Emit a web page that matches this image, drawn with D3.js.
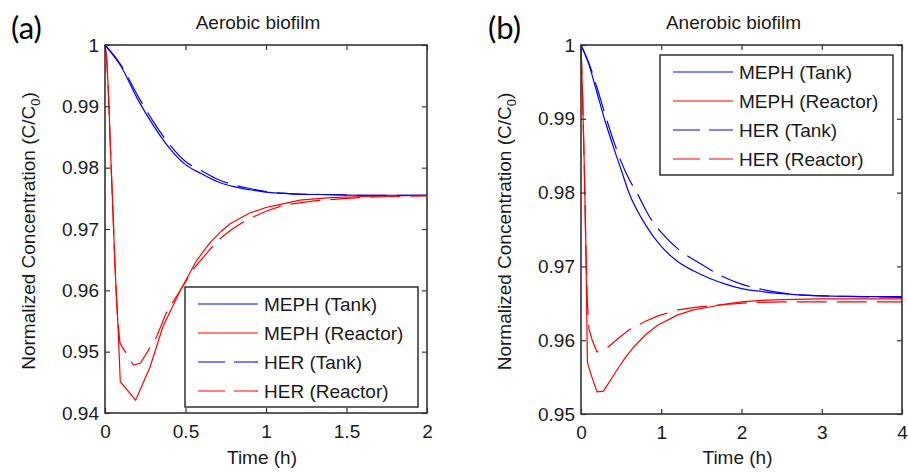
<!DOCTYPE html>
<html>
<head>
<meta charset="utf-8">
<script src="https://cdn.jsdelivr.net/npm/d3@7"></script>
<style>
  body { margin: 0; background: #fff; }
  svg { display: block; }
</style>
</head>
<body>
<script>
// series names, in legend order
const LEGEND = ["MEPH (Tank)", "MEPH (Reactor)", "HER (Tank)", "HER (Reactor)"]
const COLORS = ["#0000ff", "#ff0000", "#0000ff", "#ff0000"]

// (a) aerobic biofilm, time in h, C/C0
const aeroMephTankT = [0, 0.1, 0.2, 0.3, 0.4, 0.5, 0.6, 0.7, 0.8, 0.9, 1.0, 1.2, 1.4, 1.6, 1.8, 2.0]
const aeroMephTankC = [1, 0.9965, 0.9913, 0.9869, 0.9832, 0.9805, 0.9790, 0.9777, 0.9769, 0.9764, 0.9760, 0.9757, 0.9756, 0.9755, 0.9755, 0.9755]
const aeroHerTankT = [0, 0.1, 0.2, 0.3, 0.4, 0.5, 0.6, 0.7, 0.8, 0.9, 1.0, 1.2, 1.4, 1.6, 1.8, 2.0]
const aeroHerTankC = [1, 0.9967, 0.9919, 0.9875, 0.9838, 0.9810, 0.9795, 0.9781, 0.9772, 0.9766, 0.9761, 0.9757, 0.9756, 0.9755, 0.9755, 0.9755]
const aeroMephReactorT = [0, 0.01, 0.02, 0.03, 0.04, 0.05, 0.06, 0.07, 0.08, 0.095, 0.19, 0.28, 0.36, 0.47, 0.57, 0.65, 0.72, 0.78, 0.85, 0.9, 1.0, 1.07, 1.21, 1.4, 1.6, 1.8, 2.0]
const aeroMephReactorC = [1, 0.998, 0.993, 0.986, 0.979, 0.9725, 0.9652, 0.9595, 0.9545, 0.9451, 0.9421, 0.9475, 0.9541, 0.9601, 0.9649, 0.9677, 0.9696, 0.9709, 0.9719, 0.9726, 0.9735, 0.9739, 0.9747, 0.9751, 0.9753, 0.9754, 0.9755]
const aeroHerReactorT = [0, 0.01, 0.02, 0.03, 0.04, 0.05, 0.06, 0.07, 0.08, 0.093, 0.176, 0.22, 0.32, 0.38, 0.47, 0.55, 0.63, 0.7, 0.78, 0.88, 1.0, 1.11, 1.3, 1.5, 1.75, 2.0]
const aeroHerReactorC = [1, 0.998, 0.993, 0.986, 0.979, 0.9725, 0.9655, 0.9595, 0.955, 0.9514, 0.9478, 0.9481, 0.9524, 0.9563, 0.9601, 0.9635, 0.9660, 0.9681, 0.9698, 0.9715, 0.9729, 0.9739, 0.9746, 0.9750, 0.9753, 0.9754]

// (b) anaerobic biofilm
const anaMephTankT = [0, 0.1, 0.2, 0.3, 0.4, 0.5, 0.6, 0.8, 1.0, 1.2, 1.4, 1.6, 1.8, 2.0, 2.25, 2.5, 3.0, 3.5, 4.0]
const anaMephTankC = [1, 0.9973, 0.9935, 0.9897, 0.9863, 0.9831, 0.9799, 0.9757, 0.9727, 0.9707, 0.9694, 0.9684, 0.9676, 0.9670, 0.9666, 0.9663, 0.9660, 0.9659, 0.9659]
const anaHerTankT = [0, 0.1, 0.2, 0.3, 0.4, 0.5, 0.6, 0.7, 0.85, 1.0, 1.25, 1.5, 1.75, 2.0, 2.25, 2.5, 3.0, 3.5, 4.0]
const anaHerTankC = [1, 0.9975, 0.9942, 0.9906, 0.9872, 0.9842, 0.9818, 0.9799, 0.9768, 0.9746, 0.9720, 0.9703, 0.9687, 0.9676, 0.9669, 0.9664, 0.9660, 0.9659, 0.9658]
const anaMephReactorT = [0, 0.02, 0.04, 0.06, 0.08, 0.12, 0.2, 0.28, 0.45, 0.55, 0.65, 0.8, 0.95, 1.2, 1.4, 1.6, 1.8, 2.0, 2.25, 2.5, 3.0, 3.5, 4.0]
const anaMephReactorC = [1, 0.993, 0.984, 0.973, 0.957, 0.9555, 0.9530, 0.9531, 0.9560, 0.9576, 0.9590, 0.9607, 0.9620, 0.9634, 0.9641, 0.9645, 0.9649, 0.9652, 0.9654, 0.9655, 0.9656, 0.9656, 0.9656]
const anaHerReactorT = [0, 0.02, 0.04, 0.06, 0.08, 0.1, 0.14, 0.2, 0.33, 0.47, 0.6, 0.79, 0.96, 1.21, 1.42, 1.75, 2.12, 2.5, 3.0, 3.5, 4.0]
const anaHerReactorC = [1, 0.993, 0.984, 0.973, 0.965, 0.9615, 0.9600, 0.9584, 0.9590, 0.9603, 0.9614, 0.9625, 0.9633, 0.9641, 0.96445, 0.9648, 0.9651, 0.9652, 0.9652, 0.9652, 0.9652]

// ticks
const aeroXTicks = [0, 0.5, 1, 1.5, 2]
const aeroYTicks = [0.94, 0.95, 0.96, 0.97, 0.98, 0.99, 1]
const anaXTicks = [0, 1, 2, 3, 4]
const anaYTicks = [0.95, 0.96, 0.97, 0.98, 0.99, 1]

const DASH = [null, null, "30,10", "30,10"]
// tank curves are smooth, reactor curves are drawn point to point (kinks at the dip)
const CURVES = [d3.curveMonotoneX, d3.curveLinear, d3.curveMonotoneX, d3.curveLinear]
const FONT = "'Liberation Sans', Arial, sans-serif"
const TXT = "#1a1a1a"

const W = 908, H = 473

const svg = d3.select("body").append("svg")
    .attr("width", W)
    .attr("height", H)

const panels = [
  {
    tag: "(a)", tagX: 11, title: "Aerobic biofilm",
    left: 105, right: 427, top: 45, bottom: 413,
    xMax: 2, yMin: 0.94, xTicks: aeroXTicks, yTicks: aeroYTicks,
    legend: { x: 185, y: 287 },
    series: [
      [aeroMephTankT, aeroMephTankC],
      [aeroMephReactorT, aeroMephReactorC],
      [aeroHerTankT, aeroHerTankC],
      [aeroHerReactorT, aeroHerReactorC]
    ]
  },
  {
    tag: "(b)", tagX: 488, title: "Anerobic biofilm",
    left: 581, right: 902, top: 45, bottom: 414,
    xMax: 4, yMin: 0.95, xTicks: anaXTicks, yTicks: anaYTicks,
    legend: { x: 660, y: 55 },
    series: [
      [anaMephTankT, anaMephTankC],
      [anaMephReactorT, anaMephReactorC],
      [anaHerTankT, anaHerTankC],
      [anaHerReactorT, anaHerReactorC]
    ]
  }
]

panels.forEach(drawPanel)

function drawPanel(p) {
  const x = d3.scaleLinear().domain([0, p.xMax]).range([p.left, p.right])
  const y = d3.scaleLinear().domain([p.yMin, 1]).range([p.bottom, p.top])
  const g = svg.append("g")

  // curves
  p.series.forEach((s, i) => {
    const line = d3.line()
        .x(d => x(d[0]))
        .y(d => y(d[1]))
        .curve(CURVES[i])
    g.append("path")
        .datum(d3.zip(s[0], s[1]))
        .attr("d", line)
        .attr("fill", "none")
        .attr("stroke", COLORS[i])
        .attr("stroke-width", 1.2)
        .attr("stroke-dasharray", DASH[i])
  })

  // axes, ticks pointing inward on all four sides
  const fmt = d => String(d)
  const styleAxis = sel => {
    sel.attr("font-size", 19).attr("font-family", FONT).attr("color", TXT)
    sel.select(".domain").remove()
    sel.selectAll(".tick line").attr("stroke", "#333").attr("stroke-width", 1.2)
  }
  g.append("g").attr("transform", `translate(0,${p.bottom})`)
      .call(d3.axisBottom(x).tickValues(p.xTicks).tickSize(-5).tickPadding(12).tickFormat(fmt))
      .call(styleAxis)
  g.append("g").attr("transform", `translate(${p.left},0)`)
      .call(d3.axisLeft(y).tickValues(p.yTicks).tickSize(-5).tickPadding(6).tickFormat(fmt))
      .call(styleAxis)
  g.append("g").attr("transform", `translate(0,${p.top})`)
      .call(d3.axisTop(x).tickValues(p.xTicks).tickSize(-5).tickFormat(""))
      .call(styleAxis)
  g.append("g").attr("transform", `translate(${p.right},0)`)
      .call(d3.axisRight(y).tickValues(p.yTicks).tickSize(-5).tickFormat(""))
      .call(styleAxis)

  g.append("rect")
      .attr("x", p.left).attr("y", p.top)
      .attr("width", p.right - p.left).attr("height", p.bottom - p.top)
      .attr("fill", "none")
      .attr("stroke", "#333")
      .attr("stroke-width", 1.6)

  // title + axis labels
  g.append("text")
      .attr("x", (p.left + p.right) / 2 - 8).attr("y", 29)
      .attr("text-anchor", "middle")
      .attr("font-family", FONT).attr("font-size", 19).attr("fill", TXT)
      .text(p.title)

  g.append("text")
      .attr("x", (p.left + p.right) / 2 - 4).attr("y", 464)
      .attr("text-anchor", "middle")
      .attr("font-family", FONT).attr("font-size", 19).attr("fill", TXT)
      .text("Time (h)")

  const yl = g.append("text")
      .attr("transform", `translate(${p.left - 70},${(p.top + p.bottom) / 2 + 2}) rotate(-90)`)
      .attr("text-anchor", "middle")
      .attr("font-family", FONT).attr("font-size", 19).attr("fill", TXT)
  yl.append("tspan").text("Normalized Concentration (C/C")
  yl.append("tspan").attr("font-size", 13).attr("dy", 5).text("0")
  yl.append("tspan").attr("dy", -5).text(")")

  // panel tag
  svg.append("text")
      .attr("x", p.tagX).attr("y", 39)
      .attr("font-family", "Lato, 'Open Sans', sans-serif").attr("font-size", 31).attr("fill", "#000")
      .text(p.tag)

  // legend
  const lg = g.append("g").attr("transform", `translate(${p.legend.x},${p.legend.y})`)
  lg.append("rect")
      .attr("width", 233).attr("height", 120)
      .attr("fill", "#fff").attr("stroke", "#222").attr("stroke-width", 1.4)
  LEGEND.forEach((name, i) => {
    const ry = 17 + i * 29
    lg.append("line")
        .attr("x1", 13).attr("x2", 73).attr("y1", ry).attr("y2", ry)
        .attr("stroke", COLORS[i]).attr("stroke-width", 1.2)
        .attr("stroke-dasharray", DASH[i] ? "27,9" : null)
    lg.append("text")
        .attr("x", 79).attr("y", ry + 7)
        .attr("font-family", FONT).attr("font-size", 19).attr("fill", TXT)
        .text(name)
  })
}
</script>
</body>
</html>
